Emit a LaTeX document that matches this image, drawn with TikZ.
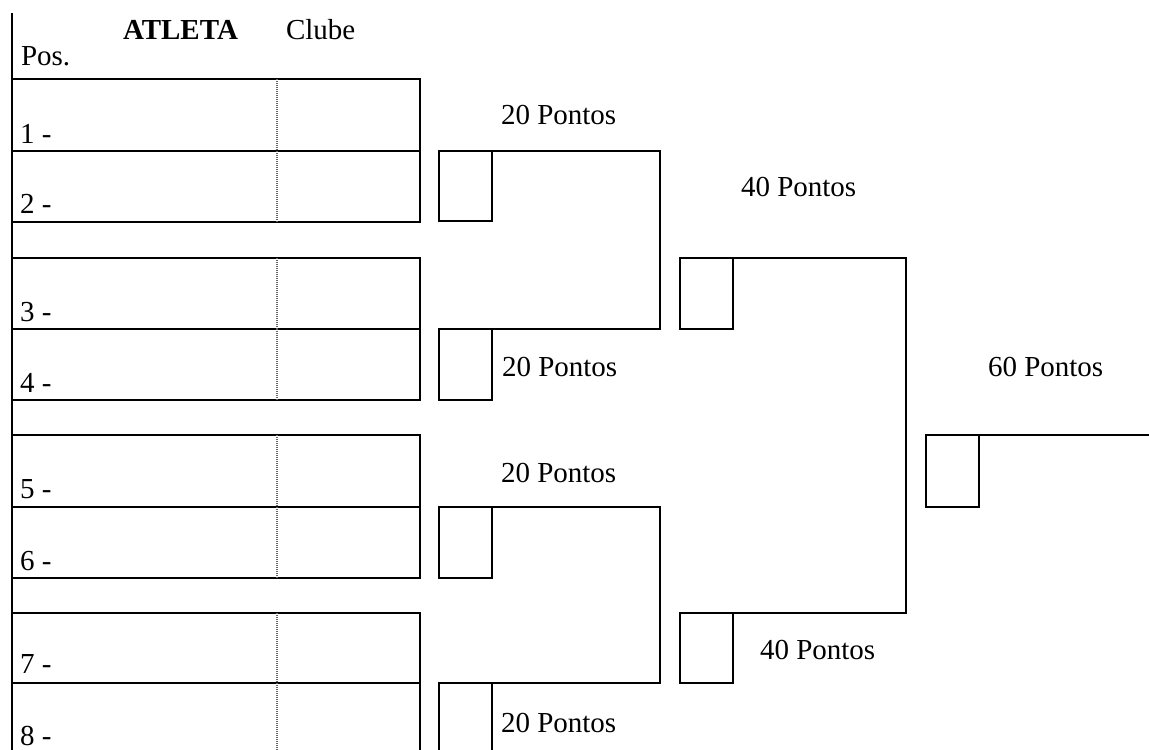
\documentclass[tikz,border=0pt]{standalone}
\usepackage{fontspec}
\setmainfont{Liberation Serif}
\begin{document}
\begin{tikzpicture}[x=0.5pt,y=-0.5pt,
  line width=0.85pt,
  every node/.style={inner sep=0pt,outer sep=0pt},
  rowbox/.style={draw,rectangle,minimum width=204pt,minimum height=#1*0.5pt,anchor=north west},
  smallbox/.style={draw,rectangle,minimum width=26.5pt,minimum height=#1*0.5pt,anchor=north west},
  lbl/.style={anchor=base west,font=\fontsize{14.5pt}{16pt}\selectfont},
  hdr/.style={anchor=base west,font=\fontsize{14.5pt}{16pt}\selectfont\bfseries},
  sepline/.style={draw=black!60,line width=0.55pt,dash pattern=on 0.5pt off 0.5pt},
  bracket/.style={draw}]
\useasboundingbox (0,0) rectangle (1149,749);
\begin{scope}
\clip (0,0) rectangle (1149,749);
% left rule
\coordinate (ltop) at (12,13);
\coordinate (lbot) at (12,760);
\draw (ltop) -- (lbot);
% rows
\node[rowbox=72] (r1) at (12,79) {};
\node[rowbox=71] (r2) at (12,151) {};
\node[rowbox=71] (r3) at (12,258) {};
\node[rowbox=71] (r4) at (12,329) {};
\node[rowbox=72] (r5) at (12,435) {};
\node[rowbox=71] (r6) at (12,507) {};
\node[rowbox=70] (r7) at (12,613) {};
\node[rowbox=90] (r8) at (12,683) {};
\coordinate (sepx) at (277,0);
\foreach \r in {r1,r2,r3,r4,r5,r6,r7,r8}
  \draw[sepline] (\r.north -| sepx) -- (\r.south -| sepx);
% small boxes
\node[smallbox=70] (s2) at (439,151) {};
\node[smallbox=71] (s4) at (439,329) {};
\node[smallbox=71] (s6) at (439,507) {};
\node[smallbox=90] (s8) at (439,683) {};
\node[smallbox=71] (q1) at (680,258) {};
\node[smallbox=70] (q2) at (680,613) {};
\node[smallbox=72] (f) at (926,435) {};
\coordinate (fend) at (1160,435);
% brackets
\draw[bracket] (s2.north east) -- ++(168,0) |- (s4.north west);
\draw[bracket] (s6.north east) -- ++(168,0) |- (s8.north west);
\draw[bracket] (q1.north east) -- ++(173,0) |- (q2.north west);
\draw[bracket] (f.north east) -- (fend);
% header
\node[hdr] (hatleta) at (123,40) {ATLETA};
\node[lbl] (hclube) at (286,40) {Clube};
\node[lbl] (hpos) at (21,66) {Pos.};
% numbers
\node[lbl] (n1) at (20,143) {1 -};
\node[lbl] (n2) at (20,213) {2 -};
\node[lbl] (n3) at (20,321) {3 -};
\node[lbl] (n4) at (20,392) {4 -};
\node[lbl] (n5) at (20,498) {5 -};
\node[lbl] (n6) at (20,570) {6 -};
\node[lbl] (n7) at (20,673) {7 -};
\node[lbl] (n8) at (20,745) {8 -};
% points
\node[lbl] (p1) at (501,125) {20 Pontos};
\node[lbl] (p2) at (741,196) {40 Pontos};
\node[lbl] (p3) at (502,376) {20 Pontos};
\node[lbl] (p4) at (988,376) {60 Pontos};
\node[lbl] (p5) at (501,482) {20 Pontos};
\node[lbl] (p6) at (760,659) {40 Pontos};
\node[lbl] (p7) at (501,732) {20 Pontos};
\end{scope}
\end{tikzpicture}
\end{document}
